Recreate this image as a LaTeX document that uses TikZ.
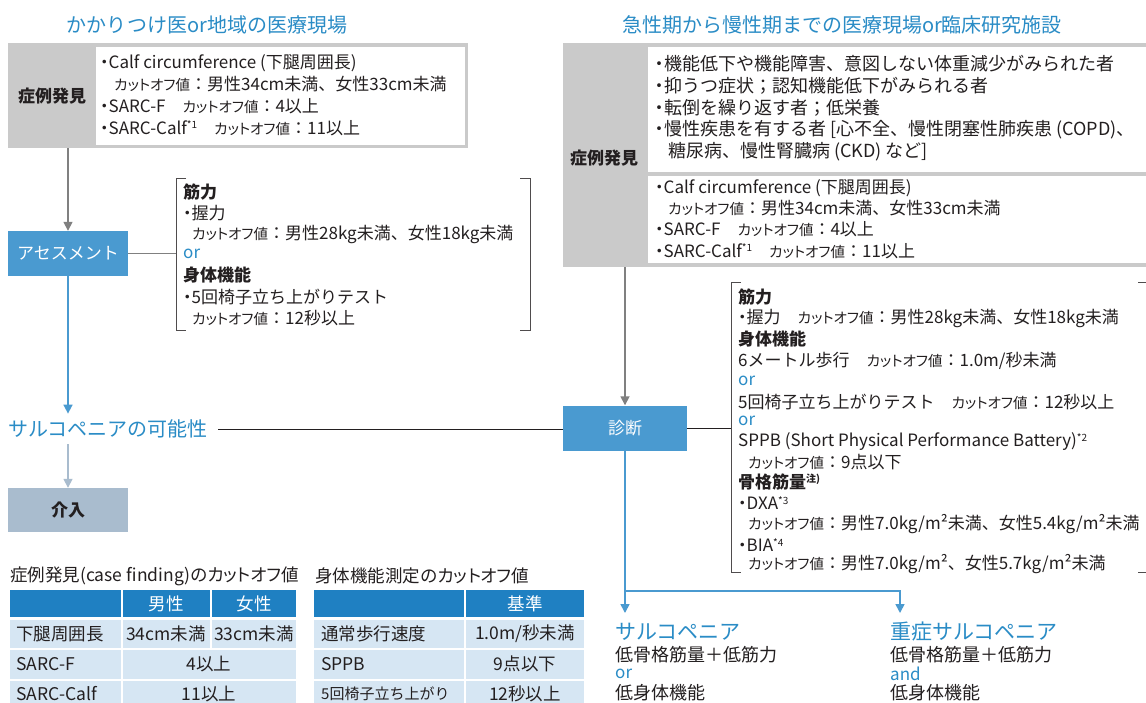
\documentclass[tikz,border=0pt]{standalone}
\usepackage{fontspec}
\setmainfont{Noto Sans CJK JP}
\newfontfamily\palfont{Noto Sans CJK JP}[RawFeature=+palt]
\usetikzlibrary{arrows.meta}
\definecolor{tblue}{HTML}{2A8CC6}
\definecolor{bblue}{HTML}{4A9AD0}
\definecolor{hblue}{HTML}{1F80C2}
\definecolor{rblue}{HTML}{D6E6F3}
\definecolor{lgray}{HTML}{CACACA}
\definecolor{lineg}{HTML}{808080}
\definecolor{kbox}{HTML}{A9BCCE}
\definecolor{ink}{HTML}{231F20}
\newcommand{\fsz}[1]{\fontsize{#1}{#1}\selectfont}
\newcommand{\cutlbl}{{\palfont\fsz{14.5}カットオフ値}}
\newcommand{\bul}{{\palfont ・}}
\newcommand{\sups}[1]{\raisebox{0.6ex}{\fsz{10}#1}}
\begin{document}
\begin{tikzpicture}[x=1pt,y=-1pt,
  txt/.style={anchor=west, inner sep=0, text=ink, font=\fsz{17}},
  hd/.style={anchor=west, inner sep=0, text=ink, font=\bfseries\fsz{17}},
  orl/.style={anchor=west, inner sep=0, text=tblue, font=\fsz{17}},
  ttl/.style={inner sep=0, text=tblue, font=\fsz{20}},
  bx/.style={fill=bblue, text=white, font=\fsz{17}, inner sep=0},
  arr/.style={-{Triangle[length=9pt,width=9pt]}, line width=1.6pt},
  brk/.style={draw=ink!80, line width=0.9pt},
  cell/.style={anchor=center, inner sep=0, text=ink, font=\fsz{17.5}},
  hcell/.style={anchor=center, inner sep=0, text=white, font=\fsz{17.5}}]
\useasboundingbox (0,0) rectangle (1146,702);
\clip (0,0) rectangle (1146,702);
\fill[white] (0,0) rectangle (1146,702);

% titles
\node[ttl] (tL) at (207,25) {かかりつけ医or地域の医療現場};
\node[ttl] (tR) at (842,25) {急性期から慢性期までの医療現場or臨床研究施設};

% left case-finding box
\node[fill=lgray, anchor=north west, minimum width=460pt, minimum height=105pt, inner sep=0] (boxL) at (8,43) {};
\fill[white] (96,47) rectangle (465,145);
\node[font=\bfseries\fsz{17}, text=ink] (sL) at (52,96) {症例発見};
\node[txt] (l1) at (100,63) {\bul Calf circumference (下腿周囲長)};
\node[txt] (l2) at (114,84) {\cutlbl：男性34cm未満、女性33cm未満};
\node[txt] (l3) at (100,106) {\bul SARC-F\quad\cutlbl：4以上};
\node[txt] (l4) at (100,128) {\bul SARC-Calf\sups{*1}\quad\cutlbl：11以上};

% assessment
\node[bx, minimum width=120pt, minimum height=45pt] (asm) at (68,253.5) {アセスメント};
\draw[arr, lineg] (asm.north |- boxL.south) -- (asm.north);

% left bracket
\node[anchor=north west, minimum width=354pt, minimum height=152pt, inner sep=0] (brL) at (176,178) {};
\draw[brk] ([xshift=10pt]brL.north west) -- (brL.north west) -- (brL.south west) -- ([xshift=10pt]brL.south west);
\draw[brk] ([xshift=-10pt]brL.north east) -- (brL.north east) -- (brL.south east) -- ([xshift=-10pt]brL.south east);
\draw[lineg, line width=1.6pt] (asm.east) -- (asm.east -| brL.west);
\node[hd] at (183,192) {筋力};
\node[txt] at (183,213) {\bul 握力};
\node[txt] at (192,234) {\cutlbl：男性28kg未満、女性18kg未満};
\node[orl] at (183,254) {or};
\node[hd] at (183,275) {身体機能};
\node[txt] at (183,297) {\bul 5回椅子立ち上がりテスト};
\node[txt] at (192,318) {\cutlbl：12秒以上};

% possibility
\node[ttl, anchor=west] (poss) at (8,429) {サルコペニアの可能性};
\draw[arr, bblue] (asm.south) -- ([yshift=6pt]asm.south |- poss.north);
\node[fill=kbox, minimum width=120pt, minimum height=44pt, inner sep=0, font=\bfseries\fsz{17}, text=ink] (kai) at (68,510) {介入};
\draw[arr, kbox] ([yshift=-6pt]poss.south -| kai.north) -- (kai.north);

% diagnosis
\node[bx, minimum width=124pt, minimum height=45pt] (diag) at (625,428) {診断};
\draw[line width=1pt, ink] ([xshift=10pt]poss.east) -- (poss.east -| diag.west);

% right case-finding box
\node[fill=lgray, anchor=north west, minimum width=600pt, minimum height=224pt, inner sep=0] (boxR) at (563,43) {};
\fill[white] (648,47) rectangle (1160,172);
\fill[white] (648,176) rectangle (1160,263);
\node[font=\bfseries\fsz{17}, text=ink] (sR) at (604,158) {症例発見};
\node[txt, font=\fsz{18}] at (655,64) {\bul 機能低下や機能障害、意図しない体重減少がみられた者};
\node[txt, font=\fsz{18}] at (655,86) {\bul 抑うつ症状；認知機能低下がみられる者};
\node[txt, font=\fsz{18}] at (655,108) {\bul 転倒を繰り返す者；低栄養};
\node[txt, font=\fsz{18}] at (655,130) {\bul 慢性疾患を有する者 [心不全、慢性閉塞性肺疾患 (COPD)、};
\node[txt, font=\fsz{18}] at (668,152) {糖尿病、慢性腎臓病 (CKD) など]};
\node[txt] at (655,188) {\bul Calf circumference (下腿周囲長)};
\node[txt] at (668,208) {\cutlbl：男性34cm未満、女性33cm未満};
\node[txt] at (655,229) {\bul SARC-F\quad\cutlbl：4以上};
\node[txt] at (655,251) {\bul SARC-Calf\sups{*1}\quad\cutlbl：11以上};
\draw[arr, lineg] (diag.north |- boxR.south) -- (diag.north);

% right bracket
\node[anchor=north west, minimum width=415pt, minimum height=290pt, inner sep=0] (brR) at (731,282) {};
\draw[brk] ([xshift=10pt]brR.north west) -- (brR.north west) -- (brR.south west) -- ([xshift=10pt]brR.south west);
\draw[brk] ([xshift=-8pt]brR.north east) -- (brR.north east);
\draw[brk] ([xshift=-8pt]brR.south east) -- (brR.south east);
\draw[line width=1pt, ink] (diag.east) -- (diag.east -| brR.west);
\node[hd] at (738,297) {筋力};
\node[txt] at (738,318) {\bul 握力\quad\cutlbl：男性28kg未満、女性18kg未満};
\node[hd] at (738,339) {身体機能};
\node[txt] at (738,361) {6メートル歩行\quad\cutlbl：1.0m/秒未満};
\node[orl] at (738,381) {or};
\node[txt] at (738,402) {5回椅子立ち上がりテスト\quad\cutlbl：12秒以上};
\node[orl] at (738,421) {or};
\node[txt] at (738,442) {SPPB (Short Physical Performance Battery)\sups{*2}};
\node[txt] at (748,462) {\cutlbl：9点以下};
\node[hd] at (738,482) {骨格筋量\sups{注)}};
\node[txt] at (738,503) {\bul DXA\sups{*3}};
\node[txt] at (748,524) {\cutlbl：男性7.0kg/m²未満、女性5.4kg/m²未満};
\node[txt] at (738,545) {\bul BIA\sups{*4}};
\node[txt] at (748,564) {\cutlbl：男性7.0kg/m²、女性5.7kg/m²未満};

% outcomes
\coordinate (jn2) at (900,591);
\coordinate (a1) at (625,613);
\coordinate (a2) at (900,613);
\draw[arr, bblue] (diag.south) -- (a1);
\draw[arr, bblue] (diag.south |- jn2) -- (jn2) -- (a2);
\node[ttl, anchor=west, font=\fsz{21}] (sarc) at (615,632) {サルコペニア};
\node[txt, font=\fsz{18}] at (615,655) {低骨格筋量＋低筋力};
\node[orl, font=\fsz{17}] at (615,674) {or};
\node[txt, font=\fsz{18}] at (615,693) {低身体機能};
\node[ttl, anchor=west, font=\fsz{21}] (sev) at (890,632) {重症サルコペニア};
\node[txt, font=\fsz{18}] at (890,655) {低骨格筋量＋低筋力};
\node[orl, font=\fsz{17}] at (890,674) {and};
\node[txt, font=\fsz{18}] at (890,693) {低身体機能};

% table 1
\node[anchor=west, inner sep=0, text=ink, font=\fsz{17.5}] (t1) at (10,576) {症例発見(case finding)の{\palfont カットオフ値}};
\fill[hblue] (10,590) rectangle (121,617);
\fill[hblue] (123,590) rectangle (210,617);
\fill[hblue] (212,590) rectangle (296,617);
\fill[rblue] (10,619.5) rectangle (121,648);
\fill[rblue] (123,619.5) rectangle (210,648);
\fill[rblue] (212,619.5) rectangle (296,648);
\fill[rblue] (10,650) rectangle (121,679);
\fill[rblue] (123,650) rectangle (296,679);
\fill[rblue] (10,681) rectangle (121,712);
\fill[rblue] (123,681) rectangle (296,712);
\node[hcell] at (166,604) {男性};
\node[hcell] at (254,604) {女性};
\node[cell, anchor=west] at (16,634) {下腿周囲長};
\node[cell] at (166,634) {34cm未満};
\node[cell] at (254,634) {33cm未満};
\node[cell, anchor=west] at (16,664) {SARC-F};
\node[cell] at (209,664) {4以上};
\node[cell, anchor=west] at (16,694) {SARC-Calf};
\node[cell] at (209,694) {11以上};

% table 2
\node[anchor=west, inner sep=0, text=ink, font=\fsz{17.5}] (t2) at (315,576) {身体機能測定の{\palfont カットオフ値}};
\fill[hblue] (314,590) rectangle (464,617);
\fill[hblue] (466,590) rectangle (584,617);
\fill[rblue] (314,619.5) rectangle (464,648);
\fill[rblue] (466,619.5) rectangle (584,648);
\fill[rblue] (314,650) rectangle (464,679);
\fill[rblue] (466,650) rectangle (584,679);
\fill[rblue] (314,681) rectangle (464,712);
\fill[rblue] (466,681) rectangle (584,712);
\node[hcell] at (525,604) {基準};
\node[cell, anchor=west] at (321,634) {通常歩行速度};
\node[cell] at (525,634) {1.0m/秒未満};
\node[cell, anchor=west] at (321,664) {SPPB};
\node[cell] at (525,664) {9点以下};
\node[cell, anchor=west, font=\fsz{15}] at (321,694) {5回椅子立ち上がり};
\node[cell] at (525,694) {12秒以上};
\end{tikzpicture}
\end{document}
